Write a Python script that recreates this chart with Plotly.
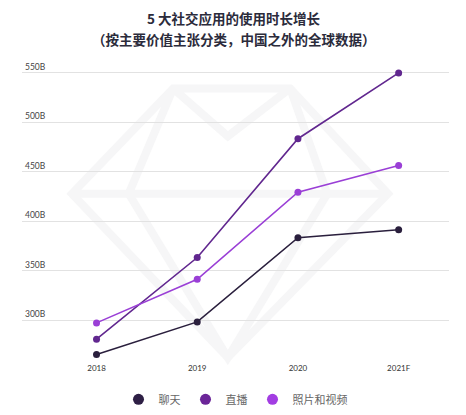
import plotly.graph_objects as go

# Values (billions of hours, ex-China)
YEARS = ["2018", "2019", "2020", "2021F"]
CHAT = [265.5, 298.5, 383.5, 391.5]
LIVE = [281, 363.5, 483.5, 550]
PHOTO_VIDEO = [297.5, 341.5, 429.5, 456.5]
Y_TICKS = [300, 350, 400, 450, 500, 550]
Y_LABELS = [f"{v}B" for v in Y_TICKS]
TITLE_LINES = ["5 大社交应用的使用时长增长", "（按主要价值主张分类，中国之外的全球数据）"]

SERIES = [
    ("聊天", CHAT, "#2a1f3d"),
    ("直播", LIVE, "#61278f"),
    ("照片和视频", PHOTO_VIDEO, "#9a3fd6"),
]
LEGEND_COLORS = ["#2e1f45", "#6b2598", "#a23de2"]

fig = go.Figure()

# faint gem watermark behind the chart
GEM = "#f6f6f7"
gem_paths = [
    "M 0.354 0.909 L 0.628 0.909 L 0.857 0.559 L 0.482 0.015 L 0.117 0.559 Z",
    "M 0.117 0.559 L 0.857 0.559",
    "M 0.354 0.909 L 0.25 0.559 L 0.482 0.015 L 0.715 0.559 L 0.628 0.909",
    "M 0.354 0.909 L 0.482 0.75 L 0.628 0.909",
]
for p in gem_paths:
    fig.add_shape(type="path", path=p, xref="paper", yref="paper",
                  line=dict(color=GEM, width=8), layer="below")

for (name, ys, color), lc in zip(SERIES, LEGEND_COLORS):
    fig.add_scatter(
        x=YEARS, y=ys, mode="lines+markers", name=name, showlegend=False,
        line=dict(color=color, width=1.6),
        marker=dict(size=7, color=color),
        hoverinfo="x+y",
    )
    # legend-only marker so the legend shows just a dot
    fig.add_scatter(
        x=[None], y=[None], mode="markers", name=name,
        marker=dict(size=11, color=lc),
    )

for i, line in enumerate(TITLE_LINES):
    fig.add_annotation(
        text=line, xref="paper", yref="paper", x=0.497, y=[1.143, 1.074][i],
        xanchor="center", yanchor="middle", showarrow=False,
        font=dict(family="Noto Sans CJK SC", size=13.5, color="#2b2b3b", weight="bold"),
    )

# page body has an 8px margin, so the figure is 8px smaller than the window
fig.update_layout(
    width=458, height=407,
    paper_bgcolor="white", plot_bgcolor="white",
    font=dict(family="Lato, Noto Sans CJK SC, sans-serif", color="#333"),
    xaxis=dict(
        type="category", range=[-0.74, 3.5], automargin=False,
        showgrid=False, showline=False, zeroline=False, ticks="",
        tickfont=dict(size=8, color="#333"),
    ),
    yaxis=dict(
        range=[258, 562], tickvals=Y_TICKS, ticktext=Y_LABELS,
        ticklabelposition="inside top", automargin=False,
        showgrid=True, gridcolor="#e2e2e2", gridwidth=1,
        zeroline=False, showline=False, ticks="",
        tickfont=dict(size=8.5, color="#444"),
    ),
    legend=dict(
        orientation="h", x=0.5, xanchor="center", y=-0.124, yanchor="middle",
        font=dict(family="Noto Sans CJK SC", size=11, color="#666"),
        itemwidth=30, itemclick=False,
    ),
    margin=dict(l=14, r=17, t=53, b=53, autoexpand=False),
)

fig.write_html("out.html")
